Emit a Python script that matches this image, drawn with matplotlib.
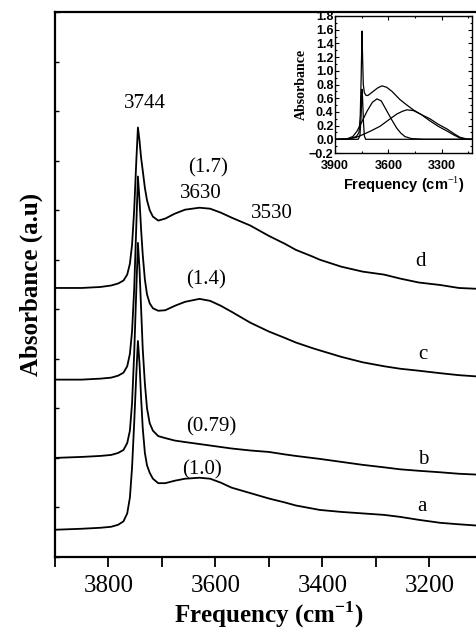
import matplotlib
matplotlib.use("Agg")
import matplotlib.pyplot as plt
from matplotlib.ticker import MultipleLocator, NullFormatter

plt.rcParams['font.family'] = ['Liberation Serif', 'DejaVu Serif']
plt.rcParams['mathtext.fontset'] = 'custom'
plt.rcParams['mathtext.rm'] = 'Liberation Serif'
plt.rcParams['mathtext.bf'] = 'Liberation Serif:bold'

# ---- main spectra (shared wavenumber grid, offset absorbance in a.u.) ----
freq = [3900, 3850, 3815, 3795, 3782, 3772, 3765, 3760, 3756, 3752, 3748, 3745,
        3742, 3739, 3736, 3732, 3728, 3723, 3717, 3707, 3694, 3676, 3657, 3630,
        3610, 3590, 3570, 3535, 3500, 3470, 3450, 3420, 3405, 3365, 3325, 3285,
        3255, 3220, 3180, 3145, 3105]

spec_d = [5.43, 5.43, 5.45, 5.48, 5.52, 5.58, 5.70, 5.92, 6.30, 7.00, 8.00, 8.67,
          8.40, 8.05, 7.80, 7.45, 7.20, 7.00, 6.87, 6.79, 6.83, 6.93, 7.01, 7.05,
          7.03, 6.95, 6.85, 6.69, 6.48, 6.32, 6.20, 6.07, 6.00, 5.86, 5.76, 5.70,
          5.62, 5.54, 5.49, 5.43, 5.41]
spec_c = [3.58, 3.58, 3.60, 3.62, 3.66, 3.72, 3.85, 4.10, 4.55, 5.40, 6.70, 7.68,
          7.20, 6.60, 6.10, 5.60, 5.30, 5.12, 5.02, 4.97, 4.98, 5.07, 5.15, 5.21,
          5.17, 5.07, 4.95, 4.73, 4.55, 4.42, 4.33, 4.22, 4.17, 4.04, 3.93, 3.85,
          3.80, 3.76, 3.71, 3.67, 3.64]
spec_b = [2.00, 2.02, 2.04, 2.06, 2.10, 2.16, 2.30, 2.55, 3.10, 4.10, 5.40, 6.34,
          5.80, 5.00, 4.20, 3.50, 3.00, 2.70, 2.55, 2.44, 2.40, 2.35, 2.32, 2.28,
          2.25, 2.22, 2.19, 2.15, 2.12, 2.07, 2.04, 2.00, 1.98, 1.92, 1.86, 1.81,
          1.77, 1.74, 1.71, 1.68, 1.66]
spec_a = [0.55, 0.57, 0.59, 0.61, 0.65, 0.72, 0.88, 1.20, 1.80, 2.70, 3.70, 4.36,
          3.90, 3.20, 2.60, 2.10, 1.85, 1.70, 1.58, 1.49, 1.49, 1.54, 1.58, 1.60,
          1.58, 1.50, 1.40, 1.29, 1.18, 1.10, 1.04, 0.98, 0.95, 0.91, 0.88, 0.85,
          0.81, 0.75, 0.69, 0.66, 0.63]

# ---- inset: deconvolution of spectrum d ----
tot_f = [3900, 3820, 3780, 3765, 3758, 3753, 3748, 3745, 3741, 3735, 3725, 3715,
         3700, 3680, 3660, 3636, 3610, 3580, 3535, 3496, 3460, 3422, 3367, 3320,
         3270, 3230, 3198, 3160, 3130]
tot_v = [0.0, 0.01, 0.04, 0.10, 0.35, 0.90, 1.58, 1.20, 0.80, 0.68, 0.64, 0.64,
         0.67, 0.71, 0.75, 0.78, 0.76, 0.70, 0.58, 0.50, 0.43, 0.37, 0.30, 0.22,
         0.15, 0.08, 0.03, 0.005, 0.0]
g1_f = [3900, 3840, 3800, 3776, 3750, 3720, 3690, 3664, 3640, 3608, 3580, 3552,
        3530, 3507, 3470, 3400, 3130]
g1_v = [0.0, 0.0, 0.04, 0.12, 0.25, 0.41, 0.54, 0.59, 0.56, 0.41, 0.28, 0.16,
        0.09, 0.04, 0.01, 0.0, 0.0]
g2_f = [3900, 3820, 3780, 3742, 3700, 3647, 3600, 3552, 3520, 3496, 3460, 3420,
        3367, 3320, 3270, 3230, 3198, 3160, 3130]
g2_v = [0.0, 0.005, 0.03, 0.07, 0.12, 0.19, 0.28, 0.37, 0.41, 0.43, 0.42, 0.37,
        0.27, 0.19, 0.12, 0.06, 0.02, 0.0, 0.0]
sh_f = [3900, 3770, 3760, 3754, 3748, 3745, 3740, 3735, 3728, 3130]
sh_v = [0.0, 0.0, 0.05, 0.30, 0.73, 0.60, 0.25, 0.05, 0.0, 0.0]

fig = plt.figure(figsize=(4.77, 6.37), dpi=100)
ax = fig.add_axes([55 / 477, 80 / 637, 428 / 477, 545 / 637])

for s in (spec_a, spec_b, spec_c, spec_d):
    ax.plot(freq, s, color="black", lw=1.3)

ax.set_xlim(3900, 3100)
ax.set_ylim(0, 11)
ax.xaxis.set_major_locator(MultipleLocator(200))
ax.xaxis.set_minor_locator(MultipleLocator(100))
ax.yaxis.set_major_locator(MultipleLocator(1))
ax.yaxis.set_major_formatter(NullFormatter())
ax.tick_params(axis="x", which="both", direction="out", length=7, width=1.3,
               labelsize=18, pad=6)
ax.tick_params(axis="y", which="both", direction="in", length=3, width=1.0, right=False)
for sp in ax.spines.values():
    sp.set_linewidth(1.6)

ax.set_xlabel("Frequency (cm$^{\\mathbf{-1}}$)", fontsize=18, fontweight="bold", labelpad=2)
ax.set_ylabel("Absorbance (a.u)", fontsize=18, fontweight="bold", labelpad=5)

# annotations
ann = dict(fontsize=15, ha="center", va="center")
ax.text(3732, 9.15, "3744", **ann)
ax.text(3614, 7.86, "(1.7)", **ann)
ax.text(3627, 7.33, "3630", **ann)
ax.text(3494, 6.93, "3530", **ann)
ax.text(3216, 5.96, "d", **ann)
ax.text(3618, 5.60, "(1.4)", **ann)
ax.text(3212, 4.08, "c", **ann)
ax.text(3608, 2.63, "(0.79)", **ann)
ax.text(3212, 1.96, "b", **ann)
ax.text(3625, 1.76, "(1.0)", **ann)
ax.text(3214, 1.01, "a", **ann)

# inset
sans = ["Liberation Sans", "DejaVu Sans"]
ins = fig.add_axes([335 / 477, 484 / 637, 137 / 477, 137 / 637])
ins.plot(tot_f, tot_v, color="black", lw=0.9)
ins.plot(g1_f, g1_v, color="black", lw=0.9)
ins.plot(g2_f, g2_v, color="black", lw=0.9)
ins.plot(sh_f, sh_v, color="black", lw=0.9)
ins.set_xlim(3900, 3130)
ins.set_ylim(-0.2, 1.8)
ins.xaxis.set_major_locator(MultipleLocator(300))
ins.xaxis.set_minor_locator(MultipleLocator(150))
ins.yaxis.set_major_locator(MultipleLocator(0.2))
ins.yaxis.set_minor_locator(MultipleLocator(0.1))
ins.tick_params(which="both", direction="in", top=True, right=True, width=0.8)
ins.tick_params(which="major", length=3)
ins.tick_params(which="minor", length=1.5)
ins.tick_params(axis="x", labelsize=9, pad=5)
ins.tick_params(axis="y", labelsize=9, pad=1)
for lab in ins.get_xticklabels() + ins.get_yticklabels():
    lab.set_family(sans)
    lab.set_fontweight("bold")
for sp in ins.spines.values():
    sp.set_linewidth(1.0)
ins.set_xlabel("Frequency (cm$^{-1}$)", fontsize=10.5, fontweight="bold",
               family=sans, labelpad=2)
ins.set_ylabel("Absorbance", fontsize=10, fontweight="bold", labelpad=1)

fig.savefig("out.png", dpi=100)
